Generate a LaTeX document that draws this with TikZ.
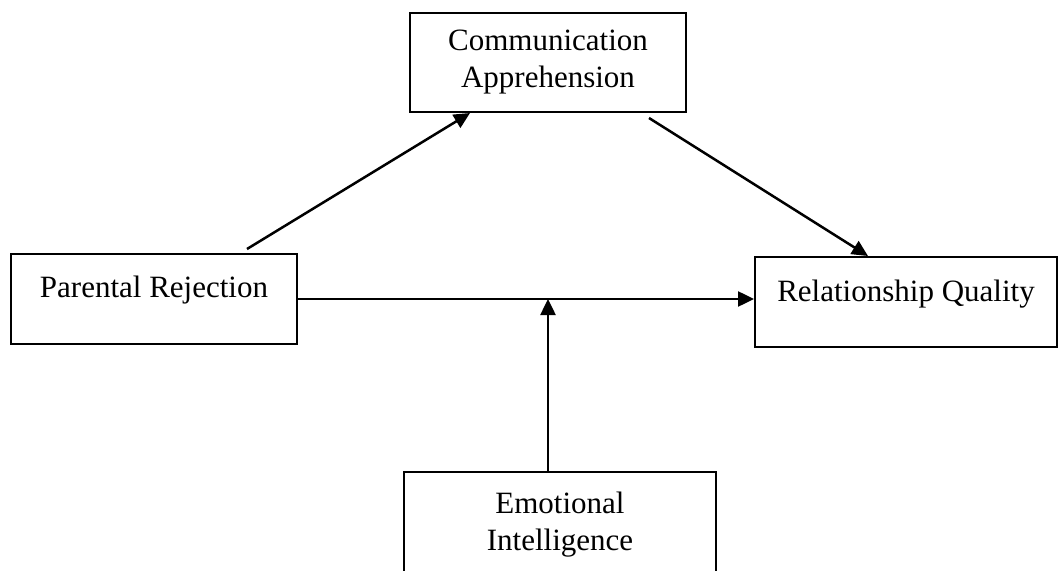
\documentclass[tikz,border=0pt]{standalone}
\usepackage{fontspec}
\setmainfont{Liberation Serif}
\usetikzlibrary{arrows.meta}
\tikzset{
  varbox/.style={draw,line width=2bp,inner sep=0pt,align=center,
    font=\fontsize{31bp}{37bp}\selectfont},
}
\begin{document}
\begin{tikzpicture}[>={Triangle[length=16bp,width=15bp]},x=1bp,y=-1bp]
  \pgfsetlinewidth{2.5bp}
  \useasboundingbox (0,0) rectangle (1058,571);
  \clip (0,0) rectangle (1058,571);
%%
  % Node: ComAppr
  \node[varbox,minimum width=276bp,minimum height=99bp] (ComAppr) at (548,62.5)
    {Communication\\Apprehension};
  % Node: ParRej
  \node[varbox,minimum width=286bp,text height=44bp,text depth=46bp] (ParRej) at (154,299)
    {Parental Rejection};
  % Node: RelQual
  \node[varbox,minimum width=302bp,text height=45bp,text depth=45bp] (RelQual) at (906,302)
    {Relationship Quality};
  % Node: EmoInt
  \node[varbox,minimum width=312bp,minimum height=106bp] (EmoInt) at (560,525)
    {Emotional\\Intelligence};
%%
  \coordinate (pr-out) at ([xshift=93bp,yshift=4bp]ParRej.north);
  \coordinate (ca-out) at ([xshift=-38bp,yshift=-5bp]ComAppr.south east);
  \coordinate (ei-out) at ([xshift=-12bp]EmoInt.north);
  % Edge: ParRej -> ComAppr
  \draw [->] (pr-out) -- ([xshift=-78bp]ComAppr.south);
  % Edge: ComAppr -> RelQual
  \draw [->] (ca-out) -- ([xshift=-38bp]RelQual.north);
  % Edge: ParRej -> RelQual
  \draw [->] (ParRej.east) -- (RelQual.west |- ParRej.east);
  % Edge: EmoInt -> (ParRej -> RelQual)
  \draw [->] (ei-out) -- (ei-out |- ParRej.east);
%
\end{tikzpicture}
\end{document}
